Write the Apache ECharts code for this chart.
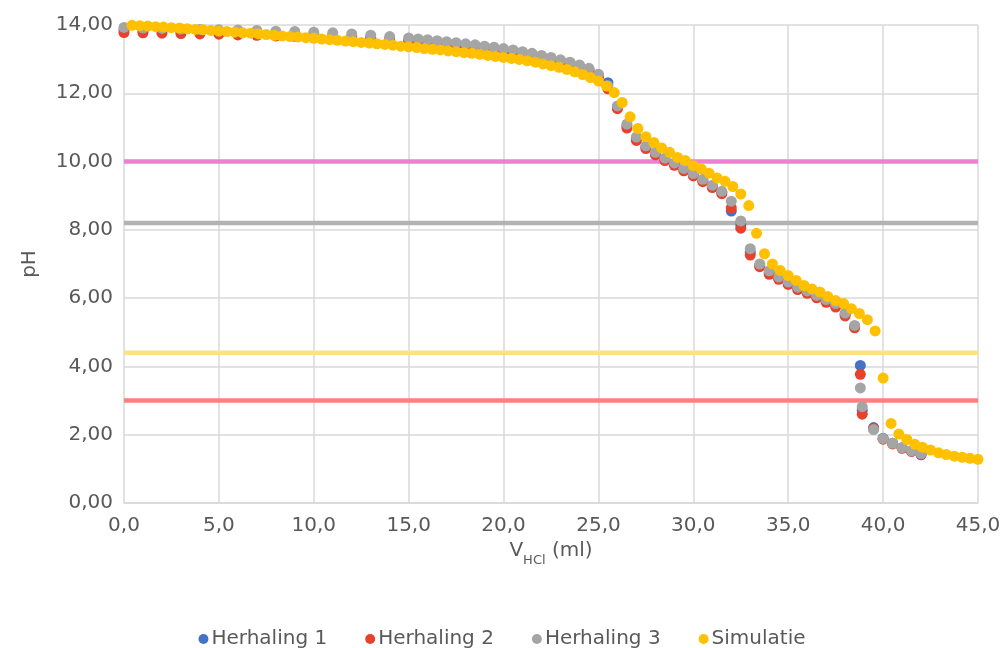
<!DOCTYPE html>
<html>
<head>
<meta charset="utf-8">
<script src="https://cdn.jsdelivr.net/npm/echarts@6/dist/echarts.min.js"></script>
<style>
html,body{margin:0;padding:0;background:#fff;}
#chart{width:1004px;height:648px;}
</style>
</head>
<body>
<div id="chart"></div>
<script>
// ---- Data ----
var seriesNames = ['Herhaling 1', 'Herhaling 2', 'Herhaling 3', 'Simulatie'];

var xExp = [0,1,2,3,4,5,6,7,8,9,10,11,12,13,14,15,
  15.5,16,16.5,17,17.5,18,18.5,19,19.5,20,
  20.5,21,21.5,22,22.5,23,23.5,24,24.5,25,
  25.5,26,26.5,27,27.5,28,28.5,29,29.5,30,
  30.5,31,31.5,32,32.5,33,33.5,34,34.5,35,
  35.5,36,36.5,37,37.5,38,38.5,38.8,38.9,39.5,40,40.5,41,41.5,42];

var pH1 = [13.86,13.84,13.83,13.82,13.81,13.80,13.78,13.77,13.75,13.74,13.72,13.70,13.67,13.64,13.60,13.56,
  13.56,13.54,13.51,13.48,13.45,13.42,13.39,13.35,13.32,13.28,
  13.24,13.19,13.14,13.08,13.02,12.95,12.88,12.80,12.70,12.52,
  12.31,11.60,11.05,10.68,10.43,10.24,10.07,9.93,9.77,9.62,
  9.45,9.28,9.10,8.55,8.16,7.35,6.95,6.75,6.59,6.44,
  6.29,6.18,6.05,5.93,5.80,5.53,5.17,4.03,2.72,2.21,1.90,1.75,1.62,1.52,1.41];

var pH2 = [13.78,13.77,13.76,13.75,13.74,13.73,13.71,13.70,13.68,13.67,13.65,13.63,13.60,13.57,13.54,13.50,
  13.52,13.50,13.47,13.44,13.41,13.38,13.35,13.31,13.28,13.24,
  13.20,13.15,13.10,13.04,12.98,12.91,12.84,12.76,12.66,12.47,
  12.13,11.55,10.98,10.62,10.38,10.20,10.03,9.89,9.73,9.58,
  9.41,9.24,9.06,8.64,8.05,7.26,6.92,6.70,6.55,6.40,
  6.25,6.14,6.01,5.88,5.74,5.48,5.13,3.77,2.60,2.18,1.87,1.73,1.60,1.51,1.43];

var pH3 = [13.93,13.91,13.90,13.88,13.87,13.86,13.85,13.84,13.82,13.81,13.79,13.77,13.74,13.70,13.66,13.62,
  13.59,13.57,13.54,13.51,13.48,13.45,13.42,13.38,13.35,13.31,
  13.27,13.22,13.17,13.11,13.05,12.98,12.91,12.83,12.73,12.56,
  12.22,11.63,11.10,10.72,10.46,10.27,10.10,9.96,9.80,9.65,
  9.48,9.31,9.13,8.84,8.26,7.45,7.00,6.80,6.62,6.47,
  6.32,6.21,6.08,5.96,5.84,5.56,5.20,3.37,2.82,2.15,1.89,1.75,1.62,1.53,1.45];

var xSim = [0.42,0.83,1.25,1.67,2.08,2.50,2.92,3.33,3.75,4.17,4.58,5.00,
  5.42,5.83,6.25,6.67,7.08,7.50,7.92,8.33,8.75,9.17,9.58,10.00,
  10.42,10.83,11.25,11.67,12.08,12.50,12.92,13.33,13.75,14.17,14.58,15.00,
  15.42,15.83,16.25,16.67,17.08,17.50,17.92,18.33,18.75,19.17,19.58,20.00,
  20.42,20.83,21.25,21.67,22.08,22.50,22.92,23.33,23.75,24.17,24.58,25.00,
  25.42,25.83,26.25,26.67,27.08,27.50,27.92,28.33,28.75,29.17,29.58,30.00,
  30.42,30.83,31.25,31.67,32.08,32.50,32.92,33.33,33.75,34.17,34.58,35.00,
  35.42,35.83,36.25,36.67,37.08,37.50,37.92,38.33,38.75,39.17,39.58,40.00,
  40.42,40.83,41.25,41.67,42.08,42.50,42.92,43.33,43.75,44.17,44.58,45.00];

var pHSim = [13.99,13.98,13.97,13.95,13.94,13.92,13.91,13.89,13.87,13.86,13.84,13.82,
  13.81,13.79,13.77,13.76,13.74,13.72,13.70,13.68,13.66,13.65,13.63,13.61,
  13.59,13.57,13.55,13.53,13.51,13.49,13.47,13.45,13.43,13.41,13.38,13.36,
  13.34,13.31,13.29,13.27,13.24,13.22,13.19,13.17,13.14,13.11,13.08,13.05,
  13.02,12.99,12.95,12.91,12.86,12.81,12.76,12.70,12.63,12.55,12.46,12.36,
  12.21,12.02,11.73,11.31,10.97,10.73,10.56,10.40,10.27,10.12,10.03,9.88,
  9.78,9.66,9.52,9.42,9.27,9.05,8.71,7.90,7.30,7.00,6.81,6.66,
  6.52,6.37,6.27,6.18,6.05,5.93,5.84,5.69,5.55,5.37,5.04,3.66,
  2.33,2.02,1.86,1.72,1.63,1.55,1.47,1.42,1.37,1.34,1.31,1.28];

// indicator reference levels (pH)
var refLevels = [10.0, 8.2, 4.4, 3.0];
var refColors = ['#EF7FD3', '#B3B3B3', '#FFE184', '#FF7E7E'];

var xRange = [0, 45];
var yRange = [0, 14];

// ---- Chart ----
var colors = ['#4472C4', '#E8412C', '#A5A5A5', '#FFC000'];
var FONT = 'DejaVu Sans';
var txt = '#595959';

function zip(xs, ys) { return xs.map(function (x, i) { return [x, ys[i]]; }); }

var series = [];
refLevels.forEach(function (lv, i) {
  series.push({
    type: 'line', name: 'ref' + i, silent: true,
    data: [[xRange[0], lv], [xRange[1], lv]],
    symbol: 'none',
    lineStyle: { color: refColors[i], width: 4.5 },
    z: 1
  });
});
var ys = [pH1, pH2, pH3];
for (var k = 0; k < 3; k++) {
  series.push({
    type: 'scatter', name: seriesNames[k], data: zip(xExp, ys[k]),
    symbol: 'circle', symbolSize: 11,
    itemStyle: { color: colors[k], opacity: 1 }, z: 2
  });
}
series.push({
  type: 'scatter', name: seriesNames[3], data: zip(xSim, pHSim),
  symbol: 'circle', symbolSize: 11,
  itemStyle: { color: colors[3], opacity: 1 }, z: 2
});

var chart = echarts.init(document.getElementById('chart'), null, { renderer: 'canvas' });
chart.setOption({
  animation: false,
  backgroundColor: '#ffffff',
  textStyle: { fontFamily: FONT },
  grid: { left: 124, right: 26, top: 25, bottom: 145, containLabel: false },
  xAxis: {
    type: 'value', min: xRange[0], max: xRange[1], interval: 5,
    axisLine: { show: true, lineStyle: { color: '#D9D9D9', width: 1.5 } },
    axisTick: { show: false },
    splitLine: { show: true, lineStyle: { color: '#D9D9D9', width: 1.5 } },
    axisLabel: {
      color: txt, fontSize: 20, fontFamily: FONT, margin: 13,
      formatter: function (v) { return v.toFixed(1).replace('.', ','); }
    },
    name: '{v|V}{s|HCl}{v| (ml)}',
    nameLocation: 'middle', nameGap: 30,
    nameTextStyle: {
      color: txt, fontFamily: FONT,
      rich: {
        v: { fontSize: 20, color: txt, fontFamily: FONT, lineHeight: 26, verticalAlign: 'bottom' },
        s: { fontSize: 13, color: txt, fontFamily: FONT, lineHeight: 26, verticalAlign: 'bottom', padding: [0, 0, -6, 0] }
      }
    }
  },
  yAxis: {
    type: 'value', min: yRange[0], max: yRange[1], interval: 2,
    axisLine: { show: false },
    axisTick: { show: false },
    splitLine: { show: true, lineStyle: { color: '#D9D9D9', width: 1.5 } },
    axisLabel: {
      color: txt, fontSize: 20, fontFamily: FONT, margin: 11,
      formatter: function (v) { return v.toFixed(2).replace('.', ','); }
    },
    name: 'pH', nameLocation: 'middle', nameGap: 84,
    nameTextStyle: { color: txt, fontSize: 20, fontFamily: FONT }
  },
  legend: {
    data: seriesNames,
    left: 'center', top: 624,
    icon: 'circle', itemWidth: 10, itemHeight: 10, itemGap: 38,
    textStyle: { color: txt, fontSize: 20, fontFamily: FONT, padding: [0, 0, 0, -2] }
  },
  series: series
});
</script>
</body>
</html>
